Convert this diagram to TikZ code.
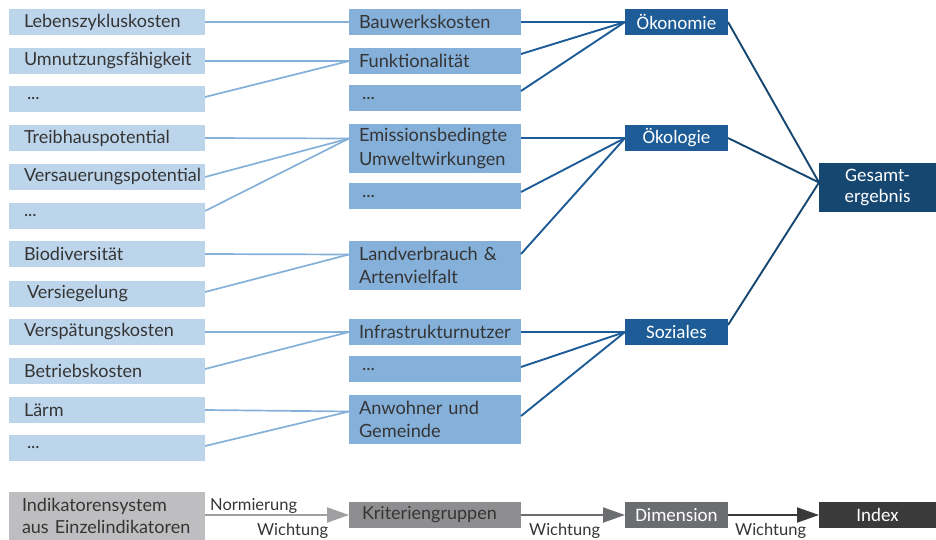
\documentclass[tikz,border=0pt]{standalone}
\usepackage{fontspec}
\newfontfamily\boxfont{Carlito}
\newfontfamily\itemfont{Lato}
\usetikzlibrary{arrows.meta,calc}

\definecolor{leafblue}{HTML}{BDD5EB}
\definecolor{critblue}{HTML}{85B0DA}
\definecolor{dimblue}{HTML}{1D5C97}
\definecolor{totalblue}{HTML}{154771}
\definecolor{ink}{HTML}{353535}
\definecolor{greyA}{HTML}{BEBEC0}
\definecolor{greyB}{HTML}{8E8E90}
\definecolor{greyC}{HTML}{6C6D70}
\definecolor{greyD}{HTML}{3A3A3A}
\definecolor{arrowA}{HTML}{A0A0A2}

\tikzset{
  box/.style={anchor=north west, inner ysep=0pt, outer sep=0pt, draw=none},
  leaf/.style={box, fill=leafblue, minimum width=196pt, minimum height=26pt,
    text width=166pt, inner xsep=15pt, align=left, text=ink,
    font=\itemfont\fontsize{18}{23.5}\selectfont},
  crit/.style={box, fill=critblue, minimum width=172pt, minimum height=26pt,
    text width=152pt, inner xsep=10pt, align=left, text=ink,
    font=\itemfont\fontsize{18.2}{23.5}\selectfont},
  crit2/.style={crit, minimum height=49pt},
  dimbox/.style={box, fill=dimblue, minimum width=103pt, minimum height=26pt,
    align=center, text=white, font=\boxfont\fontsize{19}{21}\selectfont},
  totalbox/.style={box, fill=totalblue, minimum width=117pt, minimum height=49pt,
    align=center, text=white, font=\boxfont\fontsize{19}{21}\selectfont},
  legA/.style={box, fill=greyA, minimum width=196pt, minimum height=48pt,
    text width=170pt, inner xsep=13pt, align=left, text=ink,
    font=\itemfont\fontsize{18}{22}\selectfont},
  legB/.style={box, fill=greyB, minimum width=172pt, minimum height=26pt,
    text width=146pt, inner xsep=13pt, align=left, text=ink,
    font=\itemfont\fontsize{18}{22}\selectfont},
  legC/.style={box, fill=greyC, minimum width=103pt, minimum height=26pt,
    align=center, text=white, font=\boxfont\fontsize{19}{21}\selectfont},
  legD/.style={box, fill=greyD, minimum width=117pt, minimum height=26pt,
    align=center, text=white, font=\boxfont\fontsize{19}{21}\selectfont},
  leafline/.style={draw=critblue, line width=1.7pt},
  critline/.style={draw=dimblue, line width=1.9pt},
  dimline/.style={draw=totalblue, line width=1.9pt},
  flow/.style={line width=2pt, -{Triangle[length=22pt,width=15pt]}},
  flowlabel/.style={text=ink, inner sep=0pt, font=\itemfont\fontsize{16.5}{20}\selectfont},
}

\begin{document}
\begin{tikzpicture}[x=1pt,y=-1pt]
\useasboundingbox (0,0) rectangle (936,540);

% single indicators
\node[leaf] (l1)  at (9,9)   {Lebenszykluskosten};
\node[leaf] (l2)  at (9,48)  {Umnutzungsfähigkeit};
\node[leaf] (l3)  at (9,86)  {\,...};
\node[leaf] (l4)  at (9,125) {Treibhauspotential};
\node[leaf] (l5)  at (9,164) {Versauerungspotential};
\node[leaf] (l6)  at (9,203) {...};
\node[leaf] (l7)  at (9,241) {Biodiversität};
\node[leaf] (l8)  at (9,281) {\,Versiegelung};
\node[leaf] (l9)  at (9,319) {Verspätungskosten};
\node[leaf] (l10) at (9,358) {Betriebskosten};
\node[leaf] (l11) at (9,397) {Lärm};
\node[leaf] (l12) at (9,435) {\,...};

% criteria groups
\node[crit]  (c1) at (349,9)   {Bauwerkskosten};
\node[crit]  (c2) at (349,48)  {Funktionalität};
\node[crit]  (c3) at (349,85)  {\,...};
\node[crit2] (c4) at (349,124) {Emissionsbedingte\\Umweltwirkungen};
\node[crit]  (c5) at (349,183) {\,...};
\node[crit2] (c6) at (349,241) {Landverbrauch \&\\Artenvielfalt};
\node[crit]  (c7) at (349,319) {Infrastrukturnutzer};
\node[crit]  (c8) at (349,356) {\,...};
\node[crit2] (c9) at (349,395) {Anwohner und\\Gemeinde};

% dimensions and overall result
\node[dimbox]   (d1) at (625,9)   {Ökonomie};
\node[dimbox]   (d2) at (625,125) {Ökologie};
\node[dimbox]   (d3) at (625,319) {Soziales};
\node[totalbox] (g)  at (819,163) {Gesamt-\\ergebnis};

% indicators -> criteria groups
\draw[leafline] (l1.east) -- (c1.west);
\draw[leafline] (l2.east) -- (c2.west);
\draw[leafline] ([yshift=2pt]l3.east) -- (c2.west);
\draw[leafline] (l4.east) -- ([yshift=10pt]c4.west);
\draw[leafline] (l5.east) -- ([yshift=10pt]c4.west);
\draw[leafline] ([yshift=5pt]l6.east) -- ([yshift=10pt]c4.west);
\draw[leafline] (l7.east) -- ([yshift=11pt]c6.west);
\draw[leafline] ([yshift=2pt]l8.east) -- ([yshift=11pt]c6.west);
\draw[leafline] (l9.east) -- (c7.west);
\draw[leafline] ([yshift=2pt]l10.east) -- (c7.west);
\draw[leafline] (l11.east) -- ([yshift=8pt]c9.west);
\draw[leafline] ([yshift=2pt]l12.east) -- ([yshift=8pt]c9.west);

% criteria groups -> dimensions
\draw[critline] (c1.east) -- (d1.west);
\draw[critline] ([yshift=7pt]c2.east) -- (d1.west);
\draw[critline] ([yshift=7pt]c3.east) -- (d1.west);
\draw[critline] ([yshift=10.5pt]c4.east) -- (d2.west);
\draw[critline] ([yshift=4pt]c5.east) -- (d2.west);
\draw[critline] ([yshift=11.5pt]c6.east) -- (d2.west);
\draw[critline] (c7.east) -- (d3.west);
\draw[critline] ([yshift=2pt]c8.east) -- (d3.west);
\draw[critline] ([yshift=3.5pt]c9.east) -- (d3.west);

% dimensions -> overall result
\draw[dimline] (d1.east) -- ([yshift=5pt]g.west);
\draw[dimline] (d2.east) -- ([yshift=5pt]g.west);
\draw[dimline] ([yshift=7pt]d3.east) -- ([yshift=5pt]g.west);

% legend of the aggregation levels
\node[legA] (ka) at (9,492)   {\mbox{Indikatorensystem}\\\mbox{aus Einzelindikatoren}};
\node[legB] (kb) at (349,502) {Kriteriengruppen};
\node[legC] (kc) at (625,502) {Dimension};
\node[legD] (kd) at (819,502) {Index};

\draw[flow, draw=arrowA, fill=arrowA] (ka.east |- kb.west) -- (kb.west);
\draw[flow, draw=greyC, fill=greyC] (kb.east) -- (kc.west);
\draw[flow, draw=greyD, fill=greyD] (kc.east) -- (kd.west);

\node[flowlabel, anchor=base west] (n1) at (210,510) {Normierung};
\node[flowlabel, anchor=base west] (w1) at (257,535) {Wichtung};
\node[flowlabel, anchor=base west] (w2) at (529,535) {Wichtung};
\node[flowlabel, anchor=base west] (w3) at (735,535) {Wichtung};
\end{tikzpicture}
\end{document}
